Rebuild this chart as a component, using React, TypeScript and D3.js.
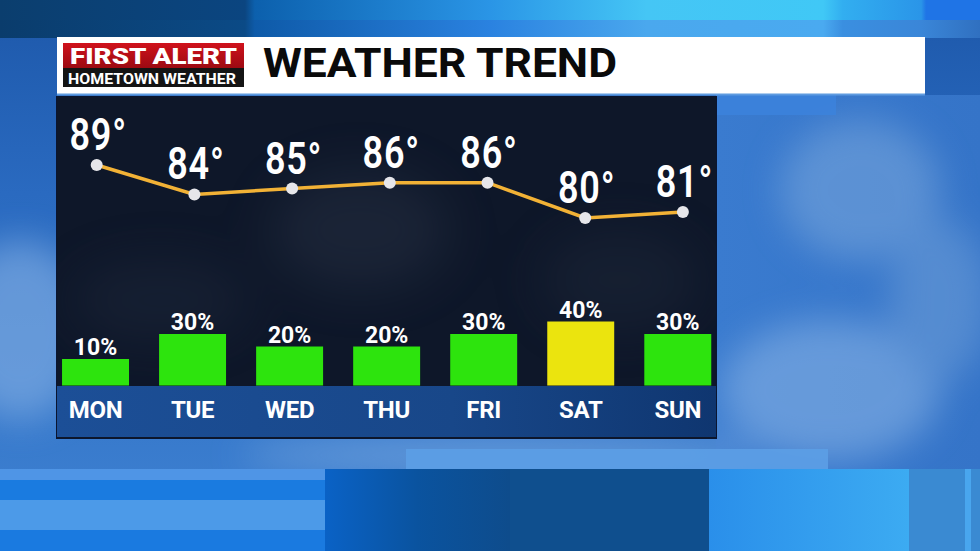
import React from "react";
import * as d3 from "d3";

const days = ["MON", "TUE", "WED", "THU", "FRI", "SAT", "SUN"];
const highs = [89, 84, 85, 86, 86, 80, 81];
const rainChance = [10, 30, 20, 20, 30, 40, 30];
const title = "WEATHER TREND";
const logoTop = "FIRST ALERT";
const logoBottom = "HOMETOWN WEATHER";

const W = 980;
const H = 551;

export default function App() {
  const xPt = d3.scalePoint<string>().domain(days).range([96.7, 682.9]).padding(0);
  const xBand = d3
    .scaleBand<string>()
    .domain(days)
    .range([47, 726.3])
    .paddingInner(0.31)
    .paddingOuter(0.155);
  const yTemp = d3.scaleLinear().domain([80, 89]).range([218, 165]);
  const yRain = d3.scaleLinear().domain([0, 100]).range([371.5, 246.5]);
  const baseY = 385.5;

  const line = d3
    .line<number>()
    .x((_, i) => xPt(days[i]) as number)
    .y((d) => yTemp(d));

  const barColor = (p: number) => (p >= 40 ? "#ebe40e" : "#2de40d");

  return (
    <svg
      width={W}
      height={H}
      style={{ position: "absolute", left: 0, top: 0, display: "block" }}
    >
      <defs>
        <linearGradient id="topA" x1="0" x2="1" y1="0" y2="0">
          <stop offset="0" stopColor="#0b3e6e" />
          <stop offset="0.25" stopColor="#0b4580" />
          <stop offset="0.26" stopColor="#0c60ad" />
          <stop offset="0.5" stopColor="#2a95e6" />
          <stop offset="0.66" stopColor="#45c6f5" />
          <stop offset="0.84" stopColor="#40c8f6" />
          <stop offset="0.86" stopColor="#32aef0" />
          <stop offset="0.94" stopColor="#2a95e8" />
          <stop offset="0.945" stopColor="#1f74e6" />
          <stop offset="1" stopColor="#1f74e6" />
        </linearGradient>
        <linearGradient id="topB" x1="0" x2="1" y1="0" y2="0">
          <stop offset="0" stopColor="#0a3c6c" />
          <stop offset="0.25" stopColor="#0b4a86" />
          <stop offset="0.26" stopColor="#0e5aa8" />
          <stop offset="0.5" stopColor="#2a82e0" />
          <stop offset="0.66" stopColor="#4aa8ee" />
          <stop offset="0.84" stopColor="#4aaaf0" />
          <stop offset="0.86" stopColor="#3a8fe0" />
          <stop offset="0.94" stopColor="#3a86d8" />
          <stop offset="1" stopColor="#3070c0" />
        </linearGradient>
        <linearGradient id="sky" x1="0" x2="0" y1="0" y2="1">
          <stop offset="0" stopColor="#1d58aa" />
          <stop offset="0.35" stopColor="#2a6ac0" />
          <stop offset="1" stopColor="#3f82d2" />
        </linearGradient>
        <linearGradient id="skyR" x1="0" x2="1" y1="0" y2="0">
          <stop offset="0" stopColor="#3a7bcf" />
          <stop offset="1" stopColor="#3574c8" />
        </linearGradient>
        <linearGradient id="strip" x1="0" x2="1" y1="0" y2="0">
          <stop offset="0" stopColor="#1c4f97" />
          <stop offset="0.6" stopColor="#184789" />
          <stop offset="1" stopColor="#0f3670" />
        </linearGradient>
        <linearGradient id="botMid" x1="0" x2="1" y1="0" y2="0">
          <stop offset="0" stopColor="#0a62c6" />
          <stop offset="0.5" stopColor="#0a539f" />
          <stop offset="1" stopColor="#0e4c8c" />
        </linearGradient>
        <linearGradient id="botRight" x1="0" x2="1" y1="0" y2="0">
          <stop offset="0" stopColor="#2a8fea" />
          <stop offset="1" stopColor="#3cabf2" />
        </linearGradient>
        <linearGradient id="redLogo" x1="0" x2="0" y1="0" y2="1">
          <stop offset="0" stopColor="#d0121c" />
          <stop offset="1" stopColor="#9c0a12" />
        </linearGradient>
        <filter id="blur" x="-50%" y="-50%" width="200%" height="200%">
          <feGaussianBlur stdDeviation="18" />
        </filter>
        <filter id="blur2" x="-50%" y="-50%" width="200%" height="200%">
          <feGaussianBlur stdDeviation="25" />
        </filter>
        <clipPath id="panelClip">
          <rect x={57} y={97} width={659} height={341} />
        </clipPath>
      </defs>

      {/* background sky */}
      <rect x={0} y={0} width={W} height={H} fill="url(#sky)" />
      <rect x={716} y={95} width={264} height={380} fill="url(#skyR)" />
      {/* clouds */}
      <g filter="url(#blur)" opacity={0.55}>
        <ellipse cx={20} cy={330} rx={70} ry={90} fill="#8fb8e8" />
        <ellipse cx={830} cy={390} rx={110} ry={70} fill="#8cb6e6" />
        <ellipse cx={860} cy={190} rx={80} ry={70} fill="#7aa7dc" />
        <ellipse cx={500} cy={455} rx={260} ry={18} fill="#8ab4e4" />
        <ellipse cx={940} cy={300} rx={50} ry={80} fill="#6e9fd8" />
      </g>
      <rect x={716} y={95} width={120} height={20} fill="#3c82dc" opacity={0.85} />

      {/* top band */}
      <rect x={0} y={0} width={W} height={20} fill="url(#topA)" />
      <rect x={0} y={20} width={W} height={18} fill="url(#topB)" />

      {/* bottom blocks */}
      <rect x={406} y={449} width={422} height={20} fill="#5c9fe6" opacity={0.9} />
      <rect x={0} y={469} width={325} height={11} fill="#4f95e6" />
      <rect x={0} y={480} width={325} height={20} fill="#1a7be0" />
      <rect x={0} y={500} width={325} height={30} fill="#4c9ae8" />
      <rect x={0} y={530} width={325} height={21} fill="#1a7ae0" />
      <rect x={325} y={469} width={185} height={82} fill="url(#botMid)" />
      <rect x={510} y={469} width={199} height={82} fill="#0f4f8e" />
      <rect x={709} y={469} width={200} height={82} fill="url(#botRight)" />
      <rect x={909} y={469} width={71} height={82} fill="#3a8ad2" />
      <rect x={965} y={469} width={6} height={82} fill="#49a6ee" />

      {/* header bar */}
      <rect x={57} y={37} width={868} height={57} fill="#ffffff" />
      <rect x={57} y={93.5} width={868} height={2} fill="#5f9be0" />

      {/* logo */}
      <rect x={63} y={43} width={181} height={25} fill="url(#redLogo)" />
      <rect x={63} y={68} width={181} height={19} fill="#141414" />
      <text
        x={70}
        y={63.5}
        fontFamily="Roboto, 'Liberation Sans', sans-serif"
        fontWeight={900}
        fontSize={22}
        fill="#ffffff"
        textLength={167}
        lengthAdjust="spacingAndGlyphs"
      >
        {logoTop}
      </text>
      <text
        x={68}
        y={83.5}
        fontFamily="Roboto, 'Liberation Sans', sans-serif"
        fontWeight={700}
        fontSize={15.5}
        fill="#ffffff"
        textLength={168}
        lengthAdjust="spacingAndGlyphs"
      >
        {logoBottom}
      </text>

      {/* title */}
      <text
        x={263}
        y={77}
        fontFamily="Roboto, 'Liberation Sans', sans-serif"
        fontWeight={700}
        fontSize={41}
        fill="#0a0a0a"
        textLength={354}
        lengthAdjust="spacingAndGlyphs"
      >
        {title}
      </text>

      {/* dark panel */}
      <rect x={56} y={96} width={661} height={343} fill="#0a1530" />
      <rect x={57} y={97} width={659} height={341} fill="#0e1729" />
      <g clipPath="url(#panelClip)">
        <g filter="url(#blur2)" opacity={0.28}>
          <ellipse cx={360} cy={230} rx={90} ry={60} fill="#3a4558" />
          <ellipse cx={160} cy={300} rx={90} ry={40} fill="#2c3648" />
          <ellipse cx={620} cy={280} rx={80} ry={50} fill="#2a3446" />
        </g>
        <rect x={57} y={386} width={659} height={51} fill="url(#strip)" />
      </g>

      {/* bars */}
      {days.map((d, i) => {
        const x = xBand(d) as number;
        const top = yRain(rainChance[i]);
        const cx = x + xBand.bandwidth() / 2;
        return (
          <g key={d}>
            <rect
              x={x}
              y={top}
              width={xBand.bandwidth()}
              height={baseY - top}
              fill={barColor(rainChance[i])}
            />
            <text
              x={cx}
              y={top - 4}
              textAnchor="middle"
              fontFamily="Roboto, sans-serif"
              fontWeight={700}
              fontSize={23}
              fill="#ffffff"
            >
              {rainChance[i]}%
            </text>
            <text
              x={cx}
              y={418}
              textAnchor="middle"
              fontFamily="Roboto, sans-serif"
              fontWeight={700}
              fontSize={24}
              letterSpacing={-0.3}
              fill="#ffffff"
            >
              {d}
            </text>
          </g>
        );
      })}

      {/* temperature line */}
      <path d={line(highs) || ""} fill="none" stroke="#f2b236" strokeWidth={3.5} />
      {highs.map((t, i) => {
        const x = xPt(days[i]) as number;
        const y = yTemp(t);
        return (
          <g key={i}>
            <circle cx={x} cy={y} r={6} fill="#e6e6ea" />
            <g transform={`translate(${x + 1.5},${y - 15}) scale(0.8,1)`}>
              <text
                x={0}
                y={0}
                textAnchor="middle"
                fontFamily="Roboto, sans-serif"
                fontWeight={600}
                fontSize={45}
                letterSpacing={1}
                fill="#ffffff"
              >
                {t}°
              </text>
            </g>
          </g>
        );
      })}
    </svg>
  );
}
